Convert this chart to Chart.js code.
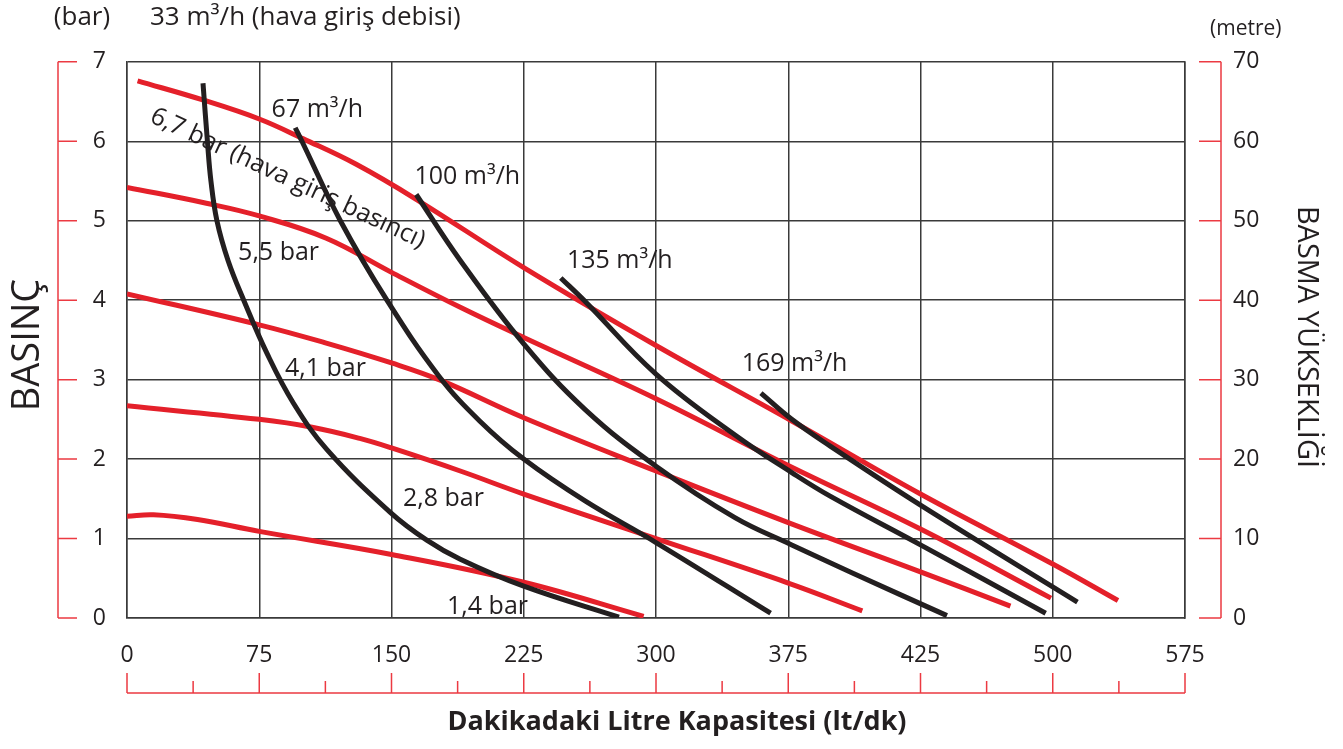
<!DOCTYPE html>
<html>
<head>
<meta charset="utf-8">
<title>Basınç - Kapasite</title>
<script src="https://cdn.jsdelivr.net/npm/chart.js@4.4.1/dist/chart.umd.min.js"></script>
<style>
    html, body { margin: 0; padding: 0; background: #fff; }
</style>
</head>
<body>
<canvas id="pumpChart" width="1343" height="749"></canvas>
<script>
// x tick labels exactly as printed (evenly spaced, one division = 75)
const xTickLabels = ['0', '75', '150', '225', '300', '375', '425', '500', '575'];

// air inlet pressure curves (red) - [flow, bar]
const bar67 = [[6, 6.76], [43, 6.52], [75, 6.28], [100, 6.03], [130, 5.71], [164, 5.27], [225, 4.41], [300, 3.43], [377, 2.48], [450, 1.56], [525, 0.68], [562, 0.22]];
const bar55 = [[0, 5.42], [45, 5.22], [75, 5.06], [113, 4.78], [150, 4.35], [189, 3.91], [225, 3.53], [300, 2.76], [375, 1.92], [450, 1.12], [524, 0.25]];
const bar41 = [[0, 4.08], [75, 3.69], [113, 3.46], [150, 3.21], [178, 2.99], [225, 2.52], [300, 1.85], [375, 1.20], [450, 0.58], [501, 0.15]];
const bar28 = [[0, 2.67], [75, 2.50], [105, 2.40], [132, 2.26], [150, 2.14], [189, 1.85], [225, 1.56], [300, 1.00], [375, 0.44], [417, 0.09]];
const bar14 = [[0, 1.28], [15, 1.30], [40, 1.24], [75, 1.09], [150, 0.80], [225, 0.45], [293, 0.02]];

// air consumption curves (black) - [flow, bar]
const air33 = [[43.1, 6.73], [45.6, 6.00], [47.6, 5.50], [51.0, 5.00], [57.3, 4.50], [66.2, 4.00], [79.4, 3.33], [94.5, 2.70], [113.4, 2.12], [149.3, 1.33], [170, 0.98], [189, 0.74], [225, 0.40], [279, 0.01]];
const air67 = [[95.4, 6.17], [99.2, 6.00], [121, 5.00], [147.4, 4.00], [176.7, 3.05], [200, 2.48], [225, 2.00], [260, 1.47], [300, 0.95], [365, 0.06]];
const air100 = [[164, 5.33], [189, 4.50], [225, 3.45], [260, 2.62], [300, 1.91], [345, 1.26], [377, 0.92], [412, 0.56], [465, 0.03]];
const air135 = [[246, 4.28], [260, 3.98], [300, 3.07], [345, 2.30], [377, 1.83], [399, 1.53], [450, 0.92], [521, 0.06]];
const air169 = [[359.5, 2.83], [377, 2.50], [399, 2.16], [450, 1.42], [539, 0.20]];

// in-plot labels - [text, flow, bar]
const curveLabels = [
    ['67 m³/h', 82, 6.39],
    ['100 m³/h', 163, 5.55],
    ['135 m³/h', 249.5, 4.50],
    ['169 m³/h', 348.6, 3.20],
    ['5,5 bar', 63, 4.60],
    ['4,1 bar', 89.6, 3.13],
    ['2,8 bar', 156.5, 1.50],
    ['1,4 bar', 181.5, 0.14]
];

const RED = '#e4202a';
const BLACK = '#231f20';
const AXIS_RED = '#ec3a42';
const FONT = "'Open Sans', sans-serif";

const toPts = arr => arr.map(p => ({ x: p[0], y: p[1] }));

function curve(data, color) {
    return {
        data: toPts(data),
        borderColor: color,
        borderWidth: 5,
        pointRadius: 0,
        showLine: true,
        fill: false,
        tension: 0.4,
        borderCapStyle: 'butt'
    };
}

// red offset axes + free texts
const decorPlugin = {
    id: 'decor',
    afterDraw(chart) {
        const ctx = chart.ctx;
        const xs = chart.scales.x;
        const ys = chart.scales.y;

        ctx.save();
        ctx.strokeStyle = AXIS_RED;
        ctx.lineWidth = 1.5;

        // left bar axis
        ctx.beginPath();
        ctx.moveTo(58, ys.getPixelForValue(0));
        ctx.lineTo(58, ys.getPixelForValue(7));
        for (let v = 0; v <= 7; v++) {
            const y = ys.getPixelForValue(v);
            ctx.moveTo(58, y);
            ctx.lineTo(77, y);
        }
        // right metre axis
        ctx.moveTo(1221, ys.getPixelForValue(0));
        ctx.lineTo(1221, ys.getPixelForValue(7));
        for (let v = 0; v <= 7; v++) {
            const y = ys.getPixelForValue(v);
            ctx.moveTo(1199, y);
            ctx.lineTo(1221, y);
        }
        // bottom flow axis
        ctx.moveTo(xs.getPixelForValue(0), 693);
        ctx.lineTo(xs.getPixelForValue(600), 693);
        for (let v = 0; v <= 600; v += 37.5) {
            const x = xs.getPixelForValue(v);
            const major = v % 75 === 0;
            ctx.moveTo(x, major ? 673 : 681);
            ctx.lineTo(x, 693);
        }
        ctx.stroke();

        ctx.fillStyle = BLACK;
        ctx.textBaseline = 'middle';

        // curve labels
        ctx.font = '25px ' + FONT;
        ctx.textAlign = 'left';
        curveLabels.forEach(l => {
            ctx.fillText(l[0], xs.getPixelForValue(l[1]), ys.getPixelForValue(l[2]));
        });

        // rotated 6,7 bar label
        ctx.save();
        ctx.translate(xs.getPixelForValue(14), ys.getPixelForValue(6.33));
        ctx.rotate(25 * Math.PI / 180);
        ctx.fillText('6,7 bar (hava giriş basıncı)', 0, 0);
        ctx.restore();

        // top texts
        ctx.font = '26px ' + FONT;
        ctx.textAlign = 'center';
        ctx.fillText('(bar)', 82, 18);
        ctx.textAlign = 'left';
        ctx.fillText('33 m³/h (hava giriş debisi)', 150, 18);
        ctx.font = '21px ' + FONT;
        ctx.fillText('(metre)', 1210, 29);

        // axis titles
        ctx.textAlign = 'center';
        ctx.save();
        ctx.translate(28, 345);
        ctx.rotate(-Math.PI / 2);
        ctx.font = '38px ' + FONT;
        ctx.fillText('BASINÇ', 0, 0);
        ctx.restore();

        ctx.save();
        ctx.translate(1306, 337);
        ctx.rotate(Math.PI / 2);
        ctx.font = '29px ' + FONT;
        ctx.fillText('BASMA YÜKSEKLİĞİ', 0, 0);
        ctx.restore();

        ctx.font = 'bold 27px ' + FONT;
        ctx.fillText('Dakikadaki Litre Kapasitesi (lt/dk)', 677, 722);

        ctx.restore();
    }
};

const gridColor = '#3a3a3a';

new Chart(document.getElementById('pumpChart'), {
    type: 'scatter',
    data: {
        datasets: [
            curve(air33, BLACK),
            curve(air67, BLACK),
            curve(air100, BLACK),
            curve(air135, BLACK),
            curve(air169, BLACK),
            curve(bar67, RED),
            curve(bar55, RED),
            curve(bar41, RED),
            curve(bar28, RED),
            curve(bar14, RED)
        ]
    },
    options: {
        responsive: false,
        animation: false,
        devicePixelRatio: 1,
        layout: { padding: { top: 53, left: 0, right: 0, bottom: 0 } },
        plugins: {
            legend: { display: false },
            tooltip: { enabled: false }
        },
        scales: {
            x: {
                type: 'linear',
                min: 0,
                max: 600,
                afterFit: s => { s.height = 131; },
                afterBuildTicks: s => { s.ticks = xTickLabels.map((t, i) => ({ value: i * 75 })); },
                ticks: {
                    callback: (v, i) => xTickLabels[i],
                    color: BLACK,
                    font: { family: FONT, size: 23 },
                    padding: 24,
                    maxRotation: 0
                },
                grid: { color: gridColor, lineWidth: 1.5, drawTicks: false },
                border: { color: gridColor, width: 1.5 }
            },
            y: {
                position: 'left',
                min: 0,
                max: 7,
                afterFit: s => { s.width = 127; },
                ticks: {
                    stepSize: 1,
                    color: BLACK,
                    font: { family: FONT, size: 23 },
                    padding: 21
                },
                grid: { color: gridColor, lineWidth: 1.5, drawTicks: false },
                border: { color: gridColor, width: 1.5 }
            },
            y2: {
                position: 'right',
                min: 0,
                max: 70,
                afterFit: s => { s.width = 158; },
                ticks: {
                    stepSize: 10,
                    color: BLACK,
                    font: { family: FONT, size: 23 },
                    padding: 48
                },
                grid: { drawOnChartArea: false, drawTicks: false },
                border: { color: gridColor, width: 1.5 }
            }
        }
    },
    plugins: [decorPlugin]
});
</script>
</body>
</html>
